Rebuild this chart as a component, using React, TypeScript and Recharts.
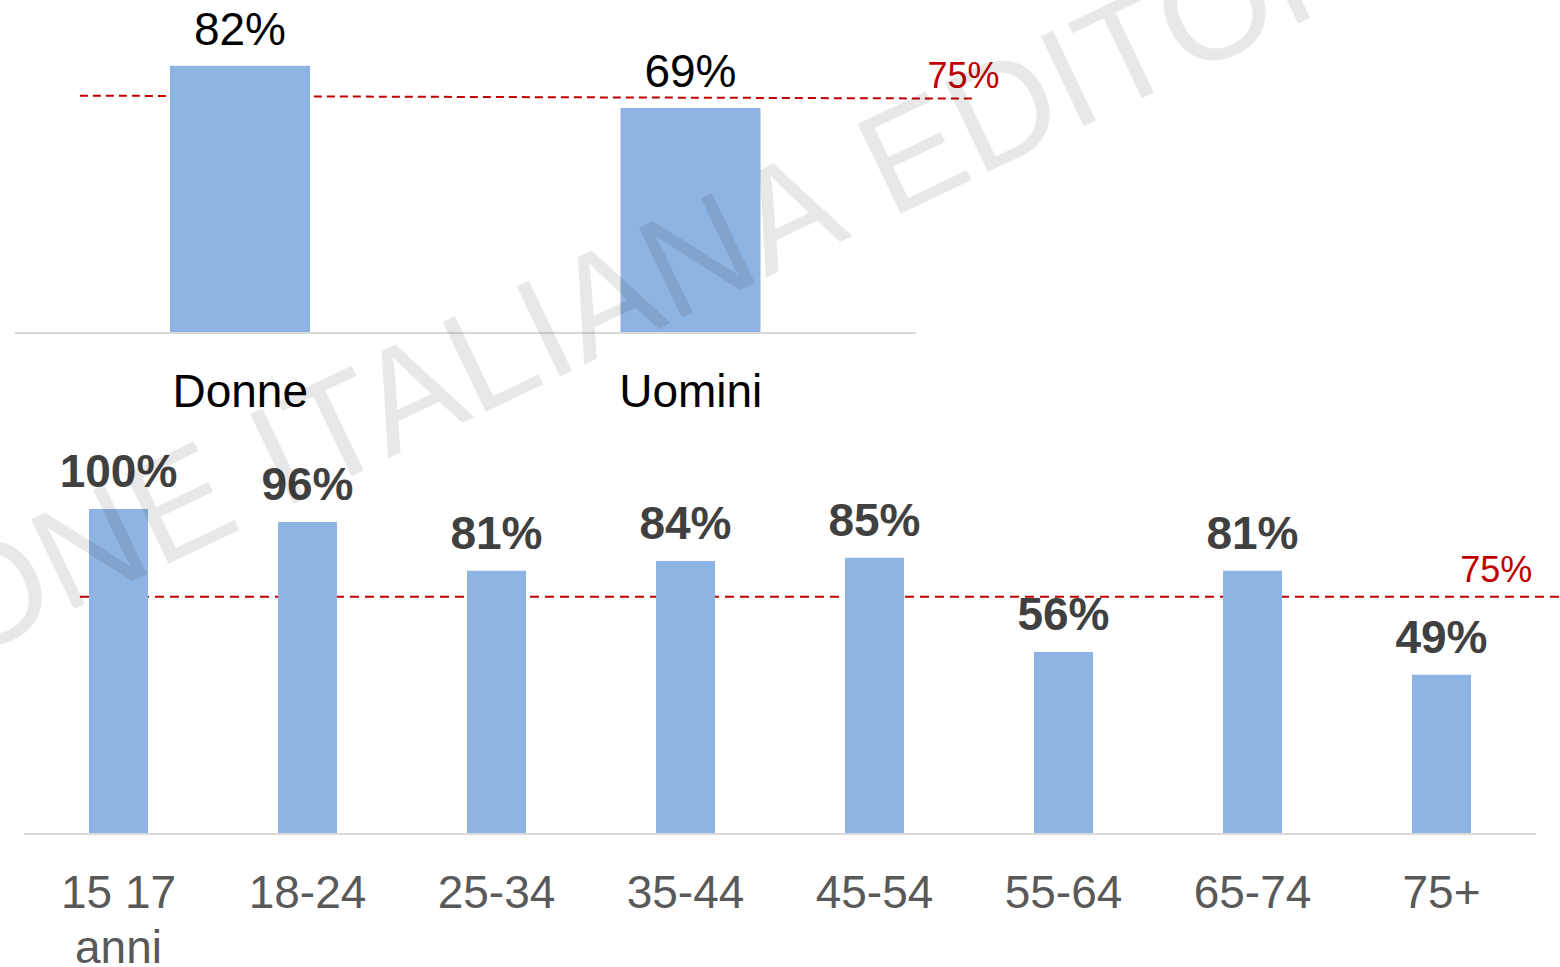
import React from 'react';
import { BarChart, Bar, XAxis, YAxis, LabelList, ReferenceLine } from 'recharts';

const FONT = '"Liberation Sans", Arial, sans-serif';

// gender chart
const genderCats = ['Donne', 'Uomini'];
const genderValues = [82, 69];

// age chart
const ageCats = ['15 17\nanni', '18-24', '25-34', '35-44', '45-54', '55-64', '65-74', '75+'];
const ageValues = [100, 96, 81, 84, 85, 56, 81, 49];

// dashed target line, as drawn (labelled 75%)
const targetText = '75%';
const topTargetLevel = [72.8, 71.9];
const ageTargetLevel = 73;

const genderData = genderCats.map((name, i) => ({ name, value: genderValues[i] }));
const ageData = ageCats.map((name, i) => ({ name, value: ageValues[i] }));

const BAR_COLOR = '#8eb4e3';
const RED = '#c00000';

const MultiTick = (props: any) => {
  const { x, y, payload, fill } = props;
  const lines = String(payload.value).split('\n');
  return (
    <text x={x} y={y + 74} textAnchor="middle" fill={fill} fontSize={46} fontFamily={FONT}>
      {lines.map((l, i) => (
        <tspan key={i} x={x} dy={i === 0 ? 0 : 55}>
          {l}
        </tspan>
      ))}
    </text>
  );
};

const targetLabel = (dx: number, dy: number) => (props: any) => {
  const vb = props.viewBox || { x: 0, y: 0, width: 0 };
  return (
    <text x={vb.x + vb.width + dx} y={vb.y + dy} textAnchor="middle" fill={RED} fontSize={36} fontFamily={FONT}>
      {targetText}
    </text>
  );
};

export default function App() {
  // hidden index axes, 0 .. n-1 over the full plot width
  const gMax = genderCats.length - 1;
  const aMax = ageCats.length - 1;
  return (
    <div
      style={{
        position: 'absolute',
        left: 0,
        top: 0,
        width: 1560,
        height: 967,
        background: '#fff',
        overflow: 'hidden',
        fontFamily: FONT,
      }}
    >
      <div style={{ position: 'absolute', left: 0, top: 0 }}>
        <BarChart
          width={1100}
          height={430}
          data={genderData}
          margin={{ top: 7, right: 184, bottom: 7, left: 15 }}
        >
          <XAxis
            dataKey="name"
            height={90}
            axisLine={{ stroke: '#d9d9d9', strokeWidth: 2 }}
            tickLine={false}
            tickSize={0}
            tickMargin={0}
            interval={0}
            tick={<MultiTick fill="#000" />}
          />
          <XAxis xAxisId="pos" type="number" domain={[0, gMax]} hide allowDataOverflow />
          <YAxis hide domain={[0, 100]} />
          {/* line sits behind the bars */}
          <ReferenceLine
            xAxisId="pos"
            segment={[
              { x: 0.072 * gMax, y: topTargetLevel[0] },
              { x: 1.066 * gMax, y: topTargetLevel[1] },
            ]}
            stroke={RED}
            strokeWidth={2}
            strokeDasharray="8 5"
            ifOverflow="visible"
            zIndex={200}
            label={targetLabel(-12, -8)}
          />
          <Bar dataKey="value" fill={BAR_COLOR} barSize={140} isAnimationActive={false}>
            <LabelList
              dataKey="value"
              position="top"
              offset={21}
              formatter={(v: any) => `${v}%`}
              fill="#000"
              fontSize={46}
              fontFamily={FONT}
            />
          </Bar>
        </BarChart>
      </div>

      <div style={{ position: 'absolute', left: 0, top: 430 }}>
        <BarChart
          width={1560}
          height={537}
          data={ageData}
          margin={{ top: 79, right: 24, bottom: 0, left: 24 }}
        >
          <XAxis
            dataKey="name"
            height={133}
            axisLine={{ stroke: '#d9d9d9', strokeWidth: 2 }}
            tickLine={false}
            tickSize={0}
            tickMargin={0}
            interval={0}
            tick={<MultiTick fill="#595959" />}
          />
          <XAxis xAxisId="pos" type="number" domain={[0, aMax]} hide allowDataOverflow />
          <YAxis hide domain={[0, 100]} />
          <ReferenceLine
            xAxisId="pos"
            segment={[
              { x: 0.037 * aMax, y: ageTargetLevel },
              { x: 1.016 * aMax, y: ageTargetLevel },
            ]}
            stroke={RED}
            strokeWidth={2}
            strokeDasharray="9 6"
            ifOverflow="visible"
            zIndex={200}
            label={targetLabel(-64, -15)}
          />
          <Bar dataKey="value" fill={BAR_COLOR} barSize={59} isAnimationActive={false}>
            <LabelList
              dataKey="value"
              position="top"
              offset={22}
              formatter={(v: any) => `${v}%`}
              fill="#404040"
              fontSize={46}
              fontWeight="bold"
              fontFamily={FONT}
            />
          </Bar>
        </BarChart>
      </div>

      {/* watermark */}
      <svg
        width={1560}
        height={967}
        style={{ position: 'absolute', left: 0, top: 0, pointerEvents: 'none' }}
      >
        <g fill="#000" fillOpacity={0.09} fontSize={145} fontFamily={FONT}>
          <text x={853} y={236} textAnchor="end" transform="rotate(-25.6 853 236)">
            FEDERAZIONE ITALIANA
          </text>
          <text x={890} y={219} textAnchor="start" transform="rotate(-25.6 890 219)">
            EDITORI GIORNALI
          </text>
        </g>
      </svg>
    </div>
  );
}
